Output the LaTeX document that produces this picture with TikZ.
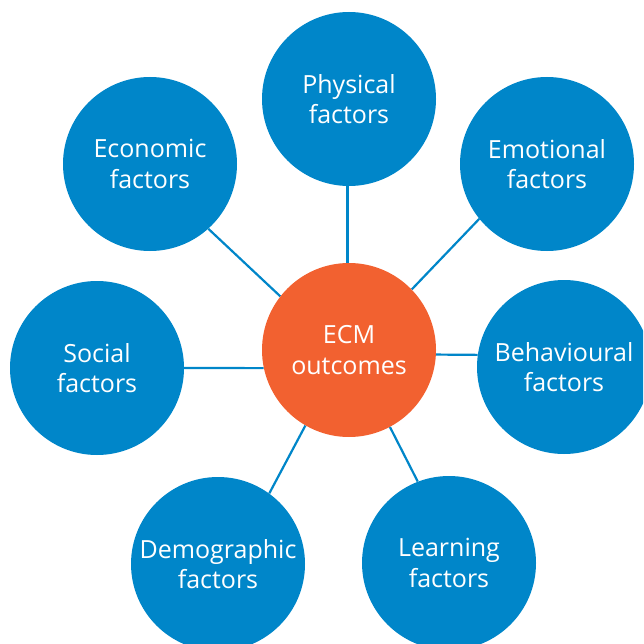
\documentclass[tikz,border=0pt]{standalone}
\usepackage{fontspec}
\setmainfont{Open Sans}
\usetikzlibrary{backgrounds}
\definecolor{ecmblue}{RGB}{0,134,201}
\definecolor{ecmorange}{RGB}{242,97,48}
\begin{document}
\begin{tikzpicture}[x=1pt,y=-1pt,
  factor/.style={circle,fill=ecmblue,minimum size=174pt,inner sep=0pt,
    text=white,align=center,font=\fontsize{25}{30.5}\selectfont},
  hub/.style={factor,fill=ecmorange},
  link/.style={draw=ecmblue,line width=2.2pt}]
\useasboundingbox (0,0) rectangle (643,644);
\clip (0,0) rectangle (643,644);
\node[hub] (c) at (349,350) {ECM\\outcomes};
\node[factor] (ph) at (349,99) {Physical\\factors};
\node[factor] (em) at (547,164) {Emotional\\factors};
\node[factor] (be) at (564,367) {Behavioural\\factors};
\node[factor] (le) at (449,563) {Learning\\factors};
\node[factor] (de) at (218,564) {Demographic\\factors};
\node[factor] (so) at (97,368) {Social\\factors};
\node[factor] (ec) at (150,164) {Economic\\factors};
\begin{pgfonlayer}{background}
\draw[link] (c.91) -- (ph.-91);
\draw[link] (c.44) -- (em.-141);
\draw[link] (c.-3) -- (be.172);
\draw[link] (c.-62) -- (le.111);
\draw[link] (c.-120) -- (de.54);
\draw[link] (c.-168) -- (so.0);
\draw[link] (c.142) -- (ec.-48);
\end{pgfonlayer}
\end{tikzpicture}
\end{document}
